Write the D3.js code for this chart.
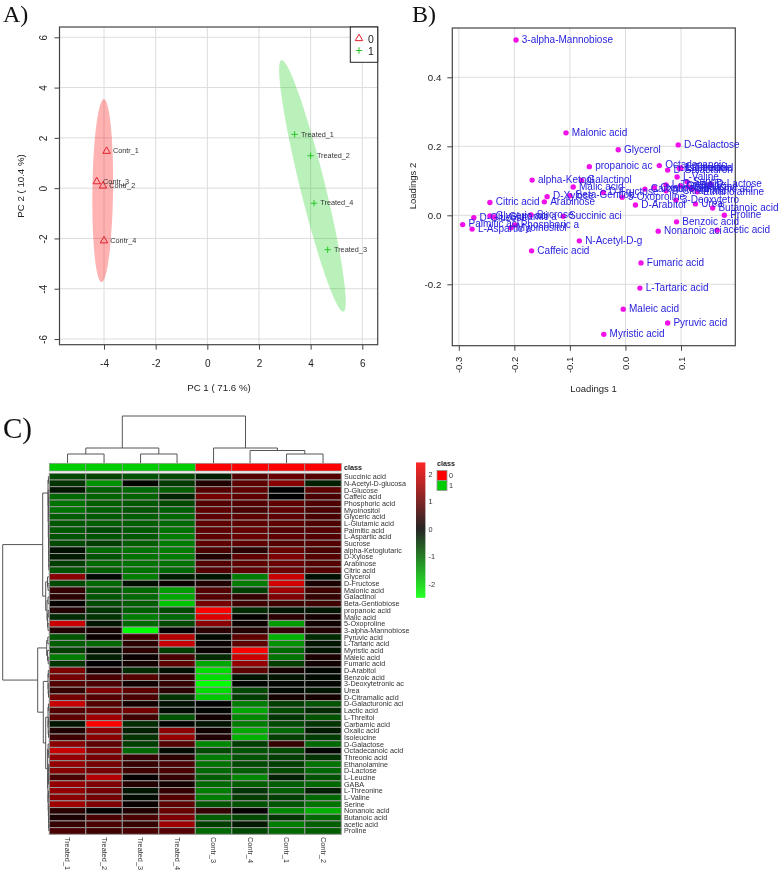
<!DOCTYPE html>
<html><head><meta charset="utf-8">
<script src="https://d3js.org/d3.v7.min.js"></script>
<style>html,body{margin:0;padding:0;background:#fff}svg{display:block;filter:blur(0.3px)}text{font-family:"Liberation Sans",Arial,sans-serif;fill:#222}</style>
</head><body><svg id="c" width="779" height="872"></svg>
<script>
// ---------- Panel A: PCA scores
const scoreNames=["Contr_1","Contr_3","Contr_2","Contr_4","Treated_1","Treated_2","Treated_4","Treated_3"];
const scorePC1=[-3.9,-4.28,-4.04,-4.0,3.38,4.0,4.13,4.66];
const scorePC2=[1.47,0.26,0.09,-2.09,2.14,1.29,-0.6,-2.45];
const scoreClass=[0,0,0,0,1,1,1,1];
// ellipse: centre, tip vector of long conjugate axis, horizontal half-width (data units)
const ellipseCentres=[[-4.05,-0.1],[4.07,0.09]];
const ellipseTips=[[0.045,3.64],[-1.19,5.01]];
const ellipseHalfWidths=[0.4,0.5];
const pcaTicks=[-6,-4,-2,0,2,4,6];
// ---------- Panel B: loadings
const loadNames=["3-alpha-Mannobiose","Malonic acid","Glycerol","D-Galactose","propanoic ac","Octadecanoic","D-Galacturon","L-Threitol","Lactic acid","Isoleucine","L-Valine","Serine","alpha-Ketogl","Galactinol","Malic acid","D-Fructose","Carbamic aci","Oxalic acid","L-Threonine","D-Citramalic","Ethanolamine","D-Lactose","D-Xylose","Beta-Gentiob","5-Oxoproline","3-Deoxytetro","D-Arabitol","Urea","Butanoic acid","Proline","Citric acid","Arabinose","D-Glucose","Glyceric aci","L-Glutamic a","Sucrose","Palmitic aci","L-Aspartic a","Phosphoric a","Myoinositol","Succinic aci","Benzoic acid","Nonanoic aci","acetic acid","N-Acetyl-D-g","Caffeic acid","Fumaric acid","L-Tartaric acid","Maleic acid","Pyruvic acid","Myristic acid","GABA","L-Leucine","Threonic aci"];
const load1=[-0.197,-0.107,-0.013,0.095,-0.065,0.061,0.076,0.097,0.0986,0.1,0.093,0.111,-0.168,-0.079,-0.094,-0.04,0.035,0.052,0.073,0.073,0.129,0.153,-0.141,-0.1,-0.006,0.091,0.018,0.126,0.157,0.178,-0.244,-0.146,-0.273,-0.244,-0.236,-0.17,-0.293,-0.276,-0.199,-0.206,-0.112,0.092,0.059,0.165,-0.083,-0.169,0.028,0.026,-0.004,0.076,-0.039,0.099,0.113,0.12];
const load2=[0.508,0.239,0.19,0.204,0.141,0.144,0.131,0.136,0.136,0.137,0.111,0.097,0.102,0.101,0.082,0.066,0.076,0.08,0.088,0.071,0.068,0.091,0.054,0.057,0.052,0.044,0.03,0.033,0.021,0,0.037,0.039,-0.007,-0.002,-0.005,0.001,-0.027,-0.04,-0.028,-0.036,-0.003,-0.019,-0.046,-0.043,-0.074,-0.103,-0.138,-0.211,-0.272,-0.312,-0.345,0.085,0.082,0.076];
const loadTicksX=[-0.3,-0.2,-0.1,0,0.1];
const loadTicksY=[-0.2,0,0.2,0.4];
// ---------- Panel C: heatmap
const heatCols=["Treated_1","Treated_2","Treated_3","Treated_4","Contr_3","Contr_4","Contr_1","Contr_2"];
const heatClass=[1,1,1,1,0,0,0,0];
const heatRows=["Succinic acid","N-Acetyl-D-glucosa","D-Glucose","Caffeic acid","Phosphoric acid","Myoinositol","Glyceric acid","L-Glutamic acid","Palmitic acid","L-Aspartic acid","Sucrose","alpha-Ketoglutaric","D-Xylose","Arabinose","Citric acid","Glycerol","D-Fructose","Malonic acid","Galactinol","Beta-Gentiobiose","propanoic acid","Malic acid","5-Oxoproline","3-alpha-Mannobiose","Pyruvic acid","L-Tartaric acid","Myristic acid","Maleic acid","Fumaric acid","D-Arabitol","Benzoic acid","3-Deoxytetronic ac","Urea","D-Citramalic acid","D-Galacturonic aci","Lactic acid","L-Threitol","Carbamic acid","Oxalic acid","Isoleucine","D-Galactose","Octadecanoic acid","Threonic acid","Ethanolamine","D-Lactose","L-Leucine","GABA","L-Threonine","L-Valine","Serine","Nonanoic acid","Butanoic acid","acetic acid","Proline"];
const heatValues=[
[-.7,-.65,-.8,-.7,-.3,.8,1,.8],[-.5,-1.4,-.05,-.55,.3,.9,1.3,-.3],[-.2,-.9,-1,-.9,.8,.9,0,.9],[-1,-.95,-.95,-.35,1.1,.9,0,.7],
[-1.1,-.9,-.85,-.7,.8,.8,.9,.75],[-1.1,-.9,-.8,-.9,.9,.7,.9,.7],[-.9,-.85,-.9,-1,.9,.9,.9,.7],[-.85,-.9,-.9,-1,.9,.9,.9,.75],
[-.85,-.7,-.85,-1.1,.9,.95,.8,.8],[-.8,-.8,-.85,-1.2,.9,1,.9,.8],[-.7,-.6,-.9,-1.2,.9,.9,.8,.8],[-.15,-1,-1.1,-1.2,.7,.4,1,.7],
[-.25,-.8,-1.1,-1.2,.3,.9,1.2,.8],[-.6,-1,-1.1,-1.1,.8,.9,1,.8],[-.8,-.9,-1.1,-1,.8,.9,1,.8],[1.3,-.1,-1.2,-.3,-.2,-1.2,1.9,-.15],
[-.7,-1,-.15,.1,.3,-1.2,2,.25],[.5,-.8,-1,-1.5,.8,-.6,1.5,.6],[.4,-.8,-1,-1.6,.8,.5,1.2,.5],[.05,-.7,-.9,-1.9,1.1,.6,.6,.6],
[.3,-.5,-.9,-.7,2.4,-.4,-.2,-.2],[-.4,-.5,-1.2,-1,2.1,.05,.4,.2],[1.9,-.2,-1,-.7,1.3,.1,-1.5,.15],[.3,.2,-2.45,.05,.4,.3,.5,.3],
[-.8,.1,.6,1.7,-.1,.9,-1.7,-.4],[-.9,-1,.4,1.9,.1,.9,-1.4,-.2],[-.6,-.15,.4,-.6,.1,2.4,-1,-.2],[-1.2,-.3,.1,.7,-.4,1.9,-1.1,.25],
[-.5,0,.2,.9,-1.6,1.4,-.6,.15],[1.2,.2,-.4,-.15,-2.1,.9,.2,-.05],[1.1,.7,.8,.5,-2.1,-.2,-.2,-.1],[.8,.7,.15,.5,-2.45,-.05,-.05,-.05],
[.5,1.2,.9,.4,-2.1,-.7,-.1,-.2],[1.1,.8,.7,-.5,-1.9,-.6,.2,.2],[1.9,.8,.2,-.15,0,-1.2,-.6,-.8],[.8,1,1.1,-.1,-.05,-1.6,-.7,-.4],
[.9,1.5,.6,-.8,.15,-1.3,-.5,-.8],[-.2,2.4,-.4,-.05,-.2,-1.2,-.7,-.5],[.3,1.3,-.3,1.3,.15,-1.6,-1,-.25],[.6,1.3,-.5,1.4,.3,-1.7,-.6,-.6],
[1.3,.9,-.6,.8,-1.3,-.6,.5,-1],[1.9,1.2,-1,-.1,-.7,-.8,-.7,-.05],[1.4,1.1,.5,.4,-1.2,-.8,-.6,-.5],[1.4,1.1,.5,.7,-1.1,-.7,-.6,-1.1],
[1.3,1.1,.6,.7,-1,-.9,-.7,-1],[.7,1.7,.05,.5,-.9,-1.3,-.3,-.8],[1.4,1.2,.35,.2,-1,-.9,-.9,-1],[1.4,1.1,-.2,.5,-1.2,-.5,-.9,-.3],
[1.3,1.1,-.1,.8,-1.2,-.6,-.6,-1],[1.5,1.2,.1,.9,-.8,-.8,-.8,-1.1],[.4,0,.3,1,.5,.05,-1.3,-1.7],[.25,.7,.7,1.2,-.9,-.7,-.5,-1],
[.5,.7,.5,1.5,-.6,-.25,-1.2,-.9],[.7,.6,.7,.8,-1,-.7,-1,-.9]];
const colourTicks=[-2,-1,0,1,2];
// dendrograms: node = [height, childA, childB]; leaf = index
const colTree=[47,[15,[9,0,1],[9,2,3]],[15,4,[12.5,5,[9,6,7]]]];
const rowTree=[46.3,
 [6.3,
  [1,[.6,0,1],[.8,2,[.7,[.5,[.3,3,4],[.3,5,6]],[.5,[.3,7,8],[.4,[.2,9,10],[.3,11,[.2,12,[.1,13,14]]]]]]]],
  [3.3,[1.5,15,[1,16,17]],[2,[1,18,19],[1.4,[.8,20,21],[1,22,23]]]]],
 [11.3,
  [2.3,[1.2,24,25],[1.5,26,[.8,27,28]]],
  [5.7,
   [1,[.7,29,30],[.8,31,[.5,32,33]]],
   [3.3,
    [1,[.6,34,35],[.8,[.4,36,37],[.5,38,39]]],
    [1.4,[.9,40,[.7,41,42]],[1.1,[.6,[.3,43,44],[.4,45,46]],[.8,[.4,47,48],[.6,49,[.4,50,[.3,51,[.2,52,53]]]]]]]]]]];

const svg=d3.select("#c");
const GRID="#dcdcdc",BOX="#444";
const fmtInt=d=>String(d), fmtOne=d=>d.toFixed(1);
function letter(t,x,y,s){svg.append("text").attr("x",x).attr("y",y).attr("font-size",s).style("font-family","'Liberation Serif',serif").style("fill","#111").text(t);}
letter("A)",3,22,24);letter("B)",412,22,24);letter("C)",3,438,29);

function styleAxis(g){g.select(".domain").attr("stroke",BOX);g.selectAll(".tick line").attr("stroke",BOX);g.selectAll("text").style("fill","#222");}

// ---- A
const ax=d3.scaleLinear().domain([-4,6]).range([104,362.3]);
const ay=d3.scaleLinear().domain([-6,6]).range([339,37.3]);
const aL=59.5,aR=377.7,aT=27,aB=344.7;
const A=svg.append("g");
pcaTicks.forEach(t=>{
 A.append("line").attr("x1",aL).attr("x2",aR).attr("y1",ay(t)).attr("y2",ay(t)).attr("stroke",GRID);
 if(t>=-4)A.append("line").attr("y1",aT).attr("y2",aB).attr("x1",ax(t)).attr("x2",ax(t)).attr("stroke",GRID);
});
const angles=d3.range(0,73).map(i=>i*5*Math.PI/180);
const ellColours=["rgba(255,0,0,0.3)","rgba(0,205,0,0.27)"];
ellipseCentres.forEach((c,k)=>{
 const line=d3.line().x(t=>ax(c[0]+ellipseTips[k][0]*Math.cos(t)+ellipseHalfWidths[k]*Math.sin(t))).y(t=>ay(c[1]+ellipseTips[k][1]*Math.cos(t)));
 A.append("path").attr("d",line(angles)+"Z").attr("fill",ellColours[k]);
});
const tri=d3.symbol().type(d3.symbolTriangle).size(24);
const plus=(g,x,y,r,c)=>{g.append("path").attr("d",`M${x-r},${y}H${x+r}M${x},${y-r}V${y+r}`).attr("stroke",c).attr("stroke-width",1).attr("fill","none");};
const triangle=(g,x,y,c)=>{g.append("path").attr("d",tri()).attr("transform",`translate(${x},${y})`).attr("fill","none").attr("stroke",c).attr("stroke-width",1);};
const RED="#e0202c",GREEN="#25c625";
scoreNames.forEach((n,i)=>{
 const x=ax(scorePC1[i]),y=ay(scorePC2[i]);
 if(scoreClass[i]===0)triangle(A,x,y,RED);else plus(A,x,y,3.2,GREEN);
 A.append("text").attr("x",x+6.3).attr("y",y-.3).attr("dy",".35em").attr("font-size",7.3).style("fill","#333").text(n);
});
A.append("rect").attr("x",aL).attr("y",aT).attr("width",aR-aL).attr("height",aB-aT).attr("fill","none").attr("stroke",BOX).attr("stroke-width",1.2);
const ag1=A.append("g").attr("transform",`translate(0,${aB})`).call(d3.axisBottom(ax).tickValues(pcaTicks.filter(t=>t>=-4)).tickSize(5).tickPadding(10).tickFormat(fmtInt));
ag1.selectAll("text").attr("font-size",10).style("font-family","'Liberation Sans'");styleAxis(ag1);ag1.select(".domain").remove();
const ag2=A.append("g").attr("transform",`translate(${aL},0)`).call(d3.axisLeft(ay).tickValues(pcaTicks).tickSize(5).tickFormat(fmtInt));
ag2.selectAll("text").attr("font-size",10).style("font-family","'Liberation Sans'").attr("text-anchor","middle").attr("dy",0).attr("x",0).attr("y",0).attr("transform","translate(-13,0) rotate(-90)");styleAxis(ag2);ag2.select(".domain").remove();
A.append("text").attr("x",219).attr("y",391).attr("text-anchor","middle").attr("font-size",9.7).text("PC 1 ( 71.6 %)");
A.append("text").attr("transform","translate(23.5,186) rotate(-90)").attr("text-anchor","middle").attr("font-size",9.7).text("PC 2 ( 10.4 %)");
A.append("rect").attr("x",350.3).attr("y",27).attr("width",27.4).attr("height",35.3).attr("fill","#fff").attr("stroke","#222").attr("stroke-width",1);
triangle(A,359,38.5,RED);plus(A,359,50.5,3.2,GREEN);
["0","1"].forEach((t,i)=>A.append("text").attr("x",368).attr("y",43+i*12).attr("font-size",10.5).text(t));

// ---- B
const bx=d3.scaleLinear().domain([-0.3,0.1]).range([458.8,681]);
const by=d3.scaleLinear().domain([-0.2,0.4]).range([284.3,77.3]);
const bL=452.3,bR=735.3,bT=28,bB=345.7;
const B=svg.append("g");
loadTicksX.forEach(t=>B.append("line").attr("x1",bx(t)).attr("x2",bx(t)).attr("y1",bT).attr("y2",bB).attr("stroke",GRID));
loadTicksY.forEach(t=>B.append("line").attr("y1",by(t)).attr("y2",by(t)).attr("x1",bL).attr("x2",bR).attr("stroke",GRID));
B.append("rect").attr("x",bL).attr("y",bT).attr("width",bR-bL).attr("height",bB-bT).attr("fill","none").attr("stroke",BOX).attr("stroke-width",1.2);
const bg1=B.append("g").attr("transform",`translate(0,${bB})`).call(d3.axisBottom(bx).tickValues(loadTicksX).tickSize(5).tickFormat(fmtOne));
bg1.selectAll("text").attr("font-size",9.5).style("font-family","'Liberation Sans'").attr("text-anchor","end").attr("dy",0).attr("y",0).attr("x",0).attr("transform","translate(3,11) rotate(-90)");styleAxis(bg1);bg1.select(".domain").remove();
const bg2=B.append("g").attr("transform",`translate(${bL},0)`).call(d3.axisLeft(by).tickValues(loadTicksY).tickSize(5).tickPadding(6).tickFormat(fmtOne));
bg2.selectAll("text").attr("font-size",9.7).style("font-family","'Liberation Sans'");styleAxis(bg2);bg2.select(".domain").remove();
B.append("text").attr("x",593.5).attr("y",392).attr("text-anchor","middle").attr("font-size",9.5).text("Loadings 1");
B.append("text").attr("transform","translate(416,186) rotate(-90)").attr("text-anchor","middle").attr("font-size",9.5).text("Loadings 2");
B.selectAll("circle").data(loadNames).join("circle").attr("cx",(d,i)=>bx(load1[i])).attr("cy",(d,i)=>by(load2[i])).attr("r",2.7).attr("fill","#f010e8");
B.selectAll("text.l").data(loadNames).join("text").attr("class","l").attr("x",(d,i)=>bx(load1[i])+5.8).attr("y",(d,i)=>by(load2[i])-.7).attr("dy",".35em").attr("font-size",10).style("fill","#2a22dd").text(d=>d);

// ---- C
const hx=d3.scaleBand().domain(d3.range(heatCols.length)).range([49.3,341.3]);
const hy=d3.scaleBand().domain(d3.range(heatRows.length)).range([473.3,834.3]);
const col=d3.scaleLinear().domain([-2.45,0,2.42]).range(["#00ff00","#000000","#ff0000"]);
const C=svg.append("g");
const CELL="#969696",CLS=["#ff0000","#00cd00"];
heatClass.forEach((k,j)=>C.append("rect").attr("x",hx(j)).attr("y",463.3).attr("width",hx.bandwidth()).attr("height",7.7).attr("fill",CLS[k]).attr("stroke",CELL).attr("stroke-width",.7));
heatValues.forEach((r,i)=>r.forEach((v,j)=>C.append("rect").attr("x",hx(j)).attr("y",hy(i)).attr("width",hx.bandwidth()).attr("height",hy.bandwidth()).attr("fill",col(v)).attr("stroke",CELL).attr("stroke-width",1)));
heatRows.forEach((n,i)=>C.append("text").attr("x",344).attr("y",hy(i)+hy.bandwidth()/2).attr("dy",".35em").attr("font-size",7.2).style("fill","#333").text(n));
C.append("text").attr("x",344).attr("y",467.3).attr("dy",".35em").attr("font-size",7.2).attr("font-weight","bold").text("class");
heatCols.forEach((n,j)=>C.append("text").attr("transform",`translate(${hx(j)+hx.bandwidth()/2-2.5},837) rotate(90)`).attr("font-size",7.3).style("fill","#333").text(n));
// dendrograms
const DEND="#555";
const hTop=d3.scaleLinear().domain([0,47]).range([463,416]);
const hLeft=d3.scaleLinear().domain([0,46.3]).range([49,2.7]);
function drawTree(node,pos,h,horizontal){
 if(typeof node==="number")return {p:pos(node),h:0};
 const a=drawTree(node[1],pos,h,horizontal),b=drawTree(node[2],pos,h,horizontal),v=h(node[0]);
 const d=horizontal?`M${a.p},${h(a.h)}V${v}H${b.p}V${h(b.h)}`:`M${h(a.h)},${a.p}H${v}V${b.p}H${h(b.h)}`;
 C.append("path").attr("d",d).attr("fill","none").attr("stroke",DEND).attr("stroke-width",1);
 return {p:(a.p+b.p)/2,h:node[0]};
}
drawTree(colTree,j=>hx(j)+hx.bandwidth()/2,hTop,true);
drawTree(rowTree,i=>hy(i)+hy.bandwidth()/2,hLeft,false);
// colour legend
const cb=d3.scaleLinear().domain([-2,2]).range([584.3,474]);
d3.range(462.5,596.7,1).forEach(y=>C.append("rect").attr("x",416).attr("y",y).attr("width",9.3).attr("height",1.2).attr("fill",col(cb.invert(y+.5))));
colourTicks.forEach(t=>C.append("text").attr("x",428.5).attr("y",cb(t)).attr("dy",".35em").attr("font-size",7.3).style("fill","#333").text(t));
C.append("text").attr("x",437).attr("y",466).attr("font-size",7.2).attr("font-weight","bold").text("class");
CLS.forEach((c,i)=>{C.append("rect").attr("x",437).attr("y",470.5+i*10).attr("width",10).attr("height",10).attr("fill",c).attr("stroke",CELL).attr("stroke-width",.8);
 C.append("text").attr("x",449).attr("y",475.5+i*10).attr("dy",".35em").attr("font-size",7.3).style("fill","#333").text(i);});
</script></body></html>
